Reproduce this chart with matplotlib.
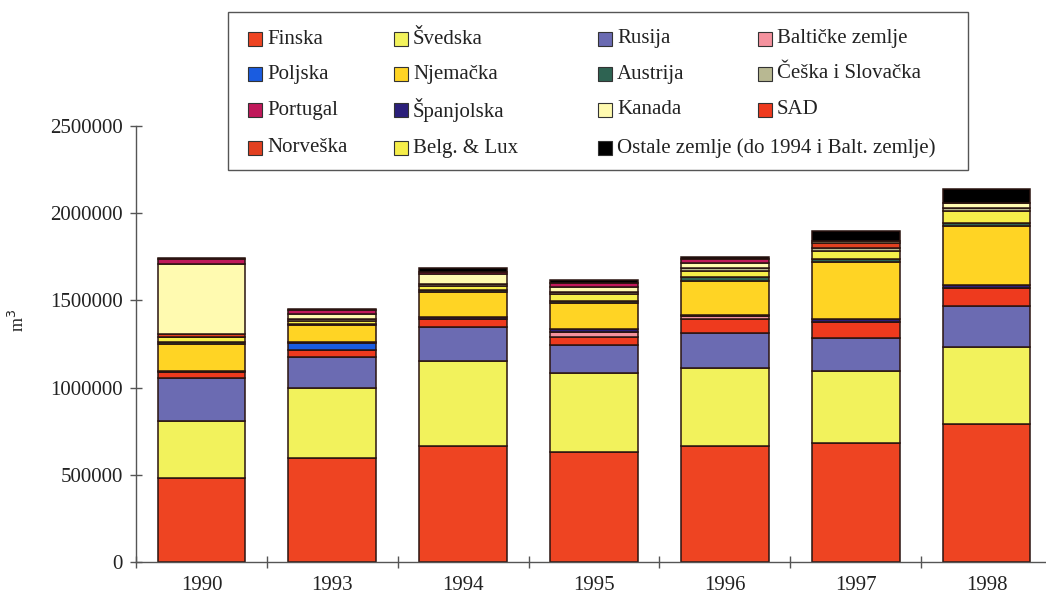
import numpy as np
import matplotlib
matplotlib.use('Agg')
import matplotlib.pyplot as plt
from matplotlib.patches import Rectangle

plt.rcParams['font.family'] = ['Liberation Serif', 'DejaVu Serif']

years = ['1990', '1993', '1994', '1995', '1996', '1997', '1998']

# stack order, bottom to top (thousand m3)
series = ['Finska', 'Švedska', 'Rusija', 'SAD', 'Baltičke zemlje', 'Poljska',
          'Španjolska', 'Njemačka', 'Austrija', 'Belg. & Lux',
          'Češka i Slovačka', 'Norveška', 'Kanada', 'Portugal',
          'Ostale zemlje (do 1994 i Balt. zemlje)']

finska = [481, 596, 665, 630, 665, 682, 791]
svedska = [327, 402, 488, 454, 447, 413, 442]
rusija = [247, 177, 195, 160, 201, 189, 235]
sad = [34, 40, 46, 46, 80, 92, 103]
balticke = [0, 0, 0, 29, 18, 0, 0]
poljska = [0, 40, 0, 0, 0, 0, 0]
spanjolska = [6, 6, 12, 17, 5, 17, 17]
njemacka = [155, 97, 143, 149, 195, 327, 339]
austrija = [10, 6, 12, 12, 23, 17, 17]
belg_lux = [29, 17, 23, 40, 35, 46, 69]
ceska = [0, 10, 11, 11, 17, 17, 17]
norveska = [17, 0, 0, 0, 0, 29, 0]
kanada = [400, 29, 57, 29, 28, 12, 29]
portugal = [30, 23, 12, 23, 23, 0, 0]
ostale = [6, 8, 23, 17, 12, 57, 80]

values = [finska, svedska, rusija, sad, balticke, poljska, spanjolska,
          njemacka, austrija, belg_lux, ceska, norveska, kanada, portugal,
          ostale]

colors = {
    'Finska': '#EE4422', 'Švedska': '#F2F25C', 'Rusija': '#6B6BB2',
    'Baltičke zemlje': '#F4929E', 'Poljska': '#1A5CE0', 'Njemačka': '#FFD424',
    'Austrija': '#2E6352', 'Češka i Slovačka': '#B8B892', 'Portugal': '#C0185A',
    'Španjolska': '#2B1F7A', 'Kanada': '#FFFAB0', 'SAD': '#EE3A1E',
    'Norveška': '#E24020', 'Belg. & Lux': '#F6EE4A',
    'Ostale zemlje (do 1994 i Balt. zemlje)': '#000000'}

legend_rows = [['Finska', 'Švedska', 'Rusija', 'Baltičke zemlje'],
               ['Poljska', 'Njemačka', 'Austrija', 'Češka i Slovačka'],
               ['Portugal', 'Španjolska', 'Kanada', 'SAD'],
               ['Norveška', 'Belg. & Lux',
                'Ostale zemlje (do 1994 i Balt. zemlje)']]

W, H = 1046, 595
fig = plt.figure(figsize=(W / 100, H / 100), dpi=100)
ax = fig.add_axes([136 / W, 33 / H, (1052 - 136) / W, (562 - 126) / H])

x = np.arange(len(years))
bottom = np.zeros(len(years))
for name, vals in zip(series, values):
    v = np.array(vals) * 1000.0
    ax.bar(x, v, width=0.67, bottom=bottom, color=colors[name],
           edgecolor='#2a1410', linewidth=1.1)
    bottom += v

ax.set_xlim(-0.5, len(years) - 0.5)
ax.set_ylim(0, 2500000)
ax.set_yticks(np.arange(0, 2500001, 500000))
ax.set_yticklabels([f'{int(t)}' for t in np.arange(0, 2500001, 500000)])
ax.set_xticks(x)
ax.set_xticklabels(years)
ax.set_xticks(np.arange(-0.5, len(years), 1.0), minor=True)

for s in ['top', 'right']:
    ax.spines[s].set_visible(False)
for s in ['left', 'bottom']:
    ax.spines[s].set_color('#555555')
    ax.spines[s].set_linewidth(1.0)

ax.tick_params(axis='y', direction='inout', length=9, width=1.0,
               color='#555555', labelsize=15, pad=5, labelcolor='#222222')
ax.tick_params(axis='x', which='major', length=0, labelsize=15, pad=10,
               labelcolor='#222222')
ax.tick_params(axis='x', which='minor', direction='inout', length=9,
               width=1.0, color='#555555')

fig.text(18 / W, 1 - 320 / H, 'm$^3$', rotation=90, fontsize=13,
         ha='center', va='center', color='#222222')

# legend box
fig.patches.append(Rectangle((228 / W, 1 - 170 / H), (968 - 228) / W,
                             (170 - 12) / H, transform=fig.transFigure,
                             facecolor='white', edgecolor='#555555',
                             linewidth=1.0))
col_x = [248, 394, 598, 758]
row_y = [39, 74, 110, 148]
for r, row in enumerate(legend_rows):
    for c, name in enumerate(row):
        fig.patches.append(Rectangle((col_x[c] / W, 1 - (row_y[r] + 7) / H),
                                     14 / W, 14 / H,
                                     transform=fig.transFigure,
                                     facecolor=colors[name],
                                     edgecolor='#333333', linewidth=0.8))
        fig.text((col_x[c] + 19) / W, 1 - row_y[r] / H, name, fontsize=15,
                 ha='left', va='center', color='#222222')

fig.savefig('out.png', dpi=100)
